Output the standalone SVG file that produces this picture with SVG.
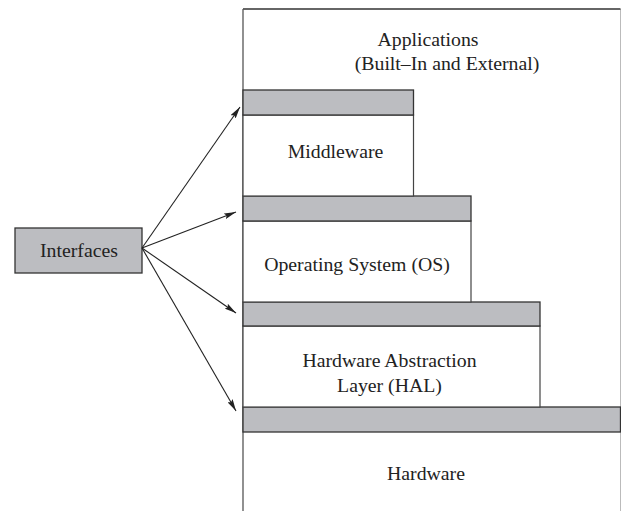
<svg xmlns="http://www.w3.org/2000/svg" width="621" height="511" viewBox="0 0 621 511">
<style>
text{font-family:"Liberation Serif","Times New Roman",serif;font-size:19.8px;fill:#222;text-anchor:middle}
.bar{fill:#bcbdc1;stroke:#333;stroke-width:1.3}
.box{fill:#fff;stroke:#444;stroke-width:1.2}
.conn{stroke:#222;stroke-width:1.1;fill:none;marker-end:url(#ah)}
</style>
<defs>
<marker id="ah" viewBox="0 0 12 6" refX="12" refY="3" markerWidth="12" markerHeight="6" markerUnits="userSpaceOnUse" orient="auto">
<path d="M0,0 L12,3 L0,6 L2,3 Z" fill="#222"/>
</marker>
</defs>
<g id="applications">
<rect x="243" y="9" width="377.5" height="510" fill="#fff" stroke="none"/>
<line x1="620.5" y1="9" x2="620.5" y2="511" stroke="#bbb" stroke-width="1"/>
<line x1="243" y1="9" x2="620.5" y2="9" stroke="#333" stroke-width="1.3"/>
<line x1="243" y1="9" x2="243" y2="511" stroke="#555" stroke-width="1.3"/>
<text x="428" y="46">Applications</text>
<text x="447" y="70">(Built–In and External)</text>
</g>
<g id="hardware">
<rect class="bar" x="243" y="407" width="377.5" height="25"/>
<text x="426" y="480">Hardware</text>
</g>
<g id="hal">
<rect class="box" x="243" y="326" width="297" height="81"/>
<rect class="bar" x="243" y="302" width="297" height="24"/>
<text x="389.5" y="367">Hardware Abstraction</text>
<text x="389.5" y="392">Layer (HAL)</text>
</g>
<g id="os">
<rect class="box" x="243" y="221" width="228" height="81"/>
<rect class="bar" x="243" y="196" width="228" height="25"/>
<text x="357" y="271">Operating System (OS)</text>
</g>
<g id="middleware">
<rect class="box" x="243" y="115" width="170.5" height="81"/>
<rect class="bar" x="243" y="90" width="170.5" height="25"/>
<text x="335.5" y="158">Middleware</text>
</g>
<g id="interfaces">
<rect class="bar" x="15" y="228" width="127" height="45"/>
<text x="79" y="257">Interfaces</text>
</g>
<g id="connectors">
<line class="conn" x1="142" y1="248" x2="240" y2="107"/>
<line class="conn" x1="142" y1="248" x2="236" y2="212"/>
<line class="conn" x1="142" y1="248" x2="236" y2="313"/>
<line class="conn" x1="142" y1="248" x2="236" y2="411"/>
</g>
</svg>
